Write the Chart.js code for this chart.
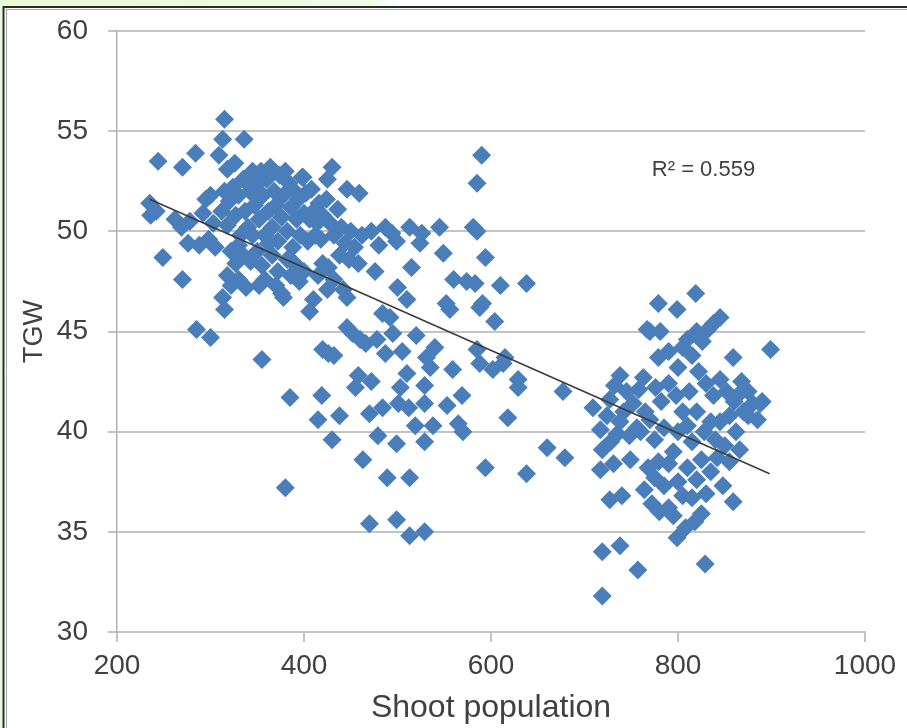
<!DOCTYPE html>
<html>
<head>
<meta charset="utf-8">
<script src="https://cdn.jsdelivr.net/npm/chart.js@4.4.0/dist/chart.umd.min.js"></script>
<style>
  html, body { margin: 0; padding: 0; background: #fff; }
  #wrap { position: relative; width: 907px; height: 728px; }
</style>
</head>
<body>
<div id="wrap"><canvas id="scatter" width="907" height="728"></canvas></div>
<script>
// shoot population (x) against thousand grain weight (y)
var shootPopulation = [
  235, 236, 242, 244, 249, 262, 269, 270, 270, 276, 278, 284, 285, 288, 292, 295, 298, 300, 300, 303, 305,
  309, 313, 315, 336, 318, 326, 312, 315, 318, 320, 322, 324, 327, 330, 332, 335, 337, 340, 342, 345,
  313, 315, 318, 322, 327, 330, 335, 338, 343, 330,
  347, 350, 352, 354, 356, 358, 360, 362, 364, 366, 368, 370, 372, 374, 376, 378, 380, 382, 384, 386,
  388, 390, 392, 394, 396, 398, 400, 402, 404, 406, 408, 410, 412, 414, 416, 418, 420, 350, 355, 358,
  362, 366, 370, 372, 376, 378, 382, 386, 390, 395, 400, 355, 380, 385, 352, 345,
  425, 430, 446, 459, 399, 424, 428, 432, 436, 440, 444, 448, 450, 454, 458, 462, 426, 432, 438, 442,
  446, 410, 415, 420, 406, 425, 446, 420, 426, 432, 460, 419, 415, 438, 430, 463, 470, 458, 455, 470,
  466, 452,
  484, 487, 492, 495, 484, 479, 489, 499, 501, 503, 510, 529, 529, 519, 538, 529, 513, 499, 513, 529,
  535, 531, 540, 487, 494, 499, 513, 526, 524, 515, 510, 476, 480, 472, 500, 505, 520, 478, 472, 512,
  545, 549, 560, 574, 583, 552, 556, 591, 588, 594, 581, 585, 585, 590, 610, 638, 604, 585, 615, 559,
  588, 602, 613, 629, 629, 553, 569, 565, 570, 618, 594, 638, 660, 679, 677,
  709, 717, 719, 717, 731, 749, 727, 740, 719, 738, 757, 719, 738, 727, 732, 738, 745, 752, 758,
  765, 770, 763, 770, 781, 779, 799, 819, 767, 779, 790, 800, 805, 810, 815, 820, 826, 832, 838, 845,
  859, 899, 888, 866, 870, 875, 880, 866, 859, 848, 829, 818, 799, 779, 785, 790, 795, 780, 772, 764,
  760, 775, 785, 795, 800, 805, 810, 815, 820, 825, 830, 835, 840, 845, 850, 855, 860, 852, 845, 838,
  830, 822, 812, 805, 798, 790, 782, 776, 800, 810, 820, 828, 835, 842, 815, 825, 808, 790, 775, 768,
  756, 748, 742, 735, 728, 724, 885, 890, 875, 862, 855, 868
];
var tgw = [
  51.4, 50.8, 51.0, 53.5, 48.7, 50.6, 50.2, 53.2, 47.6, 49.4, 50.5, 53.9, 45.1, 49.3, 50.9, 51.6, 49.6, 44.7, 51.8, 50.4, 49.2,
  53.8, 54.6, 55.6, 54.6, 53.1, 53.4, 51.0, 52.0, 50.3, 51.5, 49.0, 52.2, 50.8, 51.8, 49.8, 52.6, 51.0, 50.2, 52.0, 53.0,
  46.7, 46.1, 47.8, 47.3, 48.4, 47.6, 48.8, 47.2, 48.5, 49.3,
  51.3, 52.4, 50.6, 53.0, 51.8, 49.8, 52.6, 51.0, 53.2, 50.2, 52.0, 51.3, 49.5, 52.8, 50.7, 51.8, 53.0, 50.0, 52.4, 51.2,
  49.2, 52.0, 50.6, 51.6, 49.8, 52.7, 50.9, 51.9, 49.5, 50.6, 52.1, 51.0, 49.8, 50.4, 51.4, 49.6, 50.8, 49.0, 48.3, 47.6,
  49.4, 48.8, 47.3, 48.0, 46.9, 46.7, 48.6, 47.8, 48.4, 47.5, 48.0, 43.6, 37.2, 41.7, 47.3, 49.8,
  52.6, 53.2, 52.1, 51.9, 52.7, 51.6, 50.4, 49.8, 51.1, 50.2, 49.4, 48.6, 50.0, 49.2, 48.4, 49.8, 48.2, 47.6, 48.8, 47.1,
  46.7, 46.6, 47.8, 48.4, 46.0, 47.1, 45.2, 44.1, 43.9, 43.8, 44.6, 41.8, 40.6, 40.8, 39.6, 38.6, 35.4, 42.8, 42.2, 40.9,
  44.4, 44.9,
  45.9, 43.9, 45.7, 44.9, 41.2, 39.8, 37.7, 39.4, 41.4, 42.2, 42.9, 42.3, 41.4, 40.3, 40.3, 39.5, 37.7, 35.6, 34.8, 35.0,
  43.2, 43.7, 44.2, 50.2, 49.9, 49.5, 50.2, 49.9, 49.4, 48.2, 46.6, 48.0, 49.3, 50.0, 47.2, 44.0, 44.8, 44.6, 42.5, 41.2,
  50.2, 48.9, 47.6, 47.5, 47.4, 46.4, 46.1, 46.4, 46.2, 48.7, 50.2, 50.0, 52.4, 53.8, 47.3, 47.4, 45.5, 44.1, 43.7, 43.1,
  43.4, 43.1, 43.4, 42.6, 42.2, 41.3, 41.8, 40.4, 40.0, 40.7, 38.2, 37.9, 39.2, 38.7, 42.0,
  41.2, 40.1, 39.1, 38.1, 38.4, 38.6, 36.6, 36.8, 34.0, 34.3, 33.1, 31.8, 40.5, 41.6, 42.3, 42.8, 42.0, 41.4, 42.1,
  41.0, 40.6, 42.7, 45.0, 45.0, 46.4, 46.1, 46.9, 45.1, 43.7, 44.0, 43.2, 44.2, 44.6, 43.8, 45.0, 44.5, 45.1, 45.4, 45.7,
  43.7, 44.1, 41.4, 41.9, 41.0, 40.8, 41.4, 39.1, 36.5, 37.3, 33.4, 35.5, 34.7, 38.5, 37.3, 36.2, 35.8, 36.0, 36.4, 37.1,
  40.0, 39.6, 40.2, 39.0, 37.5, 36.8, 38.2, 39.5, 37.6, 38.6, 36.9, 38.0, 39.6, 40.5, 39.3, 40.8, 41.5, 42.0, 42.6, 41.8,
  42.4, 43.0, 42.0, 41.0, 41.8, 42.4, 41.5, 42.2, 40.0, 40.3, 41.0, 40.0, 40.5, 38.7, 36.7, 35.9, 35.2, 38.4, 37.7, 38.2,
  40.2, 39.8, 41.0, 39.9, 39.5, 40.8, 40.6, 41.5, 42.0, 40.0, 38.5, 42.5
];

// linear trend line end points and its fit statistic
var trendX = [235, 898];
var trendY = [51.6, 37.9];
var rSquaredText = 'R² = 0.559';
var rSquaredAt = [772, 53.05];

var xTitle = 'Shoot population';
var yTitle = 'TGW';

var FONT = '"Liberation Sans", Arial, sans-serif';
var TEXT = '#404040';
var GRID = '#c3c3c3';

var points = shootPopulation.map(function (x, i) { return { x: x, y: tgw[i] }; });
var trend = trendX.map(function (x, i) { return { x: x, y: trendY[i] }; });

// white panel with the dark frame and green edge behind it
var frame = {
  id: 'frame',
  beforeDraw: function (chart) {
    var c = chart.ctx;
    c.save();
    c.fillStyle = '#ffffff';
    c.fillRect(0, 0, chart.width, chart.height);
    var g = c.createLinearGradient(0, 0, 400, 0);
    g.addColorStop(0, '#e8f8d8');
    g.addColorStop(0.92, '#eefbe3');
    g.addColorStop(1, '#ffffff');
    c.fillStyle = g;
    c.fillRect(0, 0, 400, 6);
    c.fillStyle = '#e8f8d8';
    c.fillRect(0, 0, 2, chart.height);
    c.strokeStyle = '#2a2a2a';
    c.lineWidth = 2;
    c.beginPath();
    c.moveTo(3, 7); c.lineTo(chart.width, 7);
    c.moveTo(3.5, 6); c.lineTo(3.5, chart.height);
    c.stroke();
    c.strokeStyle = '#a8a8a8';
    c.lineWidth = 1;
    c.beginPath();
    c.moveTo(6, 9.5); c.lineTo(chart.width, 9.5);
    c.moveTo(6.5, 9); c.lineTo(6.5, chart.height);
    c.stroke();
    c.restore();
  }
};

var r2Label = {
  id: 'r2Label',
  afterDatasetsDraw: function (chart) {
    var c = chart.ctx;
    c.save();
    c.font = '22px ' + FONT;
    c.fillStyle = TEXT;
    c.textBaseline = 'middle';
    c.textAlign = 'left';
    c.fillText(rSquaredText, chart.scales.x.getPixelForValue(rSquaredAt[0]), chart.scales.y.getPixelForValue(rSquaredAt[1]));
    c.restore();
  }
};

var ctx = document.getElementById('scatter').getContext('2d');
var myChart = new Chart(ctx, {
  type: 'scatter',
  data: {
    datasets: [{
      type: 'line',
      label: 'Linear',
      data: trend,
      borderColor: '#3a3a3a',
      borderWidth: 1.5,
      pointRadius: 0,
      fill: false,
      order: 0
    }, {
      label: 'TGW',
      data: points,
      pointStyle: 'rectRot',
      pointRadius: 9.5,
      backgroundColor: '#4a7ebb',
      borderColor: '#4a7ebb',
      borderWidth: 0,
      order: 1
    }]
  },
  options: {
    responsive: false,
    animation: false,
    layout: { padding: { left: 0, top: 31, right: 42, bottom: 0 } },
    plugins: { legend: { display: false }, tooltip: { enabled: false } },
    scales: {
      x: {
        type: 'linear',
        min: 200,
        max: 1000,
        afterFit: function (scale) { scale.height = 96; },
        ticks: {
          stepSize: 200, color: TEXT, padding: 7, font: { family: FONT, size: 28 },
          callback: function (v) { return String(v); }
        },
        grid: { drawOnChartArea: false, drawTicks: true, tickLength: 10, color: GRID, lineWidth: 2 },
        border: { color: GRID, width: 2 },
        title: { display: true, text: xTitle, color: TEXT, padding: { top: 0, bottom: 1 }, font: { family: FONT, size: 32 } }
      },
      y: {
        type: 'linear',
        min: 30,
        max: 60,
        afterFit: function (scale) {
          scale.width = 117;
          // keep the tick padding from pushing the plot area down
          scale.paddingTop = 0;
          scale.paddingBottom = 0;
        },
        ticks: { stepSize: 5, color: TEXT, padding: 20, font: { family: FONT, size: 28 } },
        grid: { color: GRID, lineWidth: 2, tickLength: 9 },
        border: { color: '#b0b0b0', width: 1.5 },
        title: { display: true, text: yTitle, color: TEXT, padding: { top: 18, bottom: 0 }, font: { family: FONT, size: 27 } }
      }
    }
  },
  plugins: [frame, r2Label]
});
</script>
</body>
</html>
